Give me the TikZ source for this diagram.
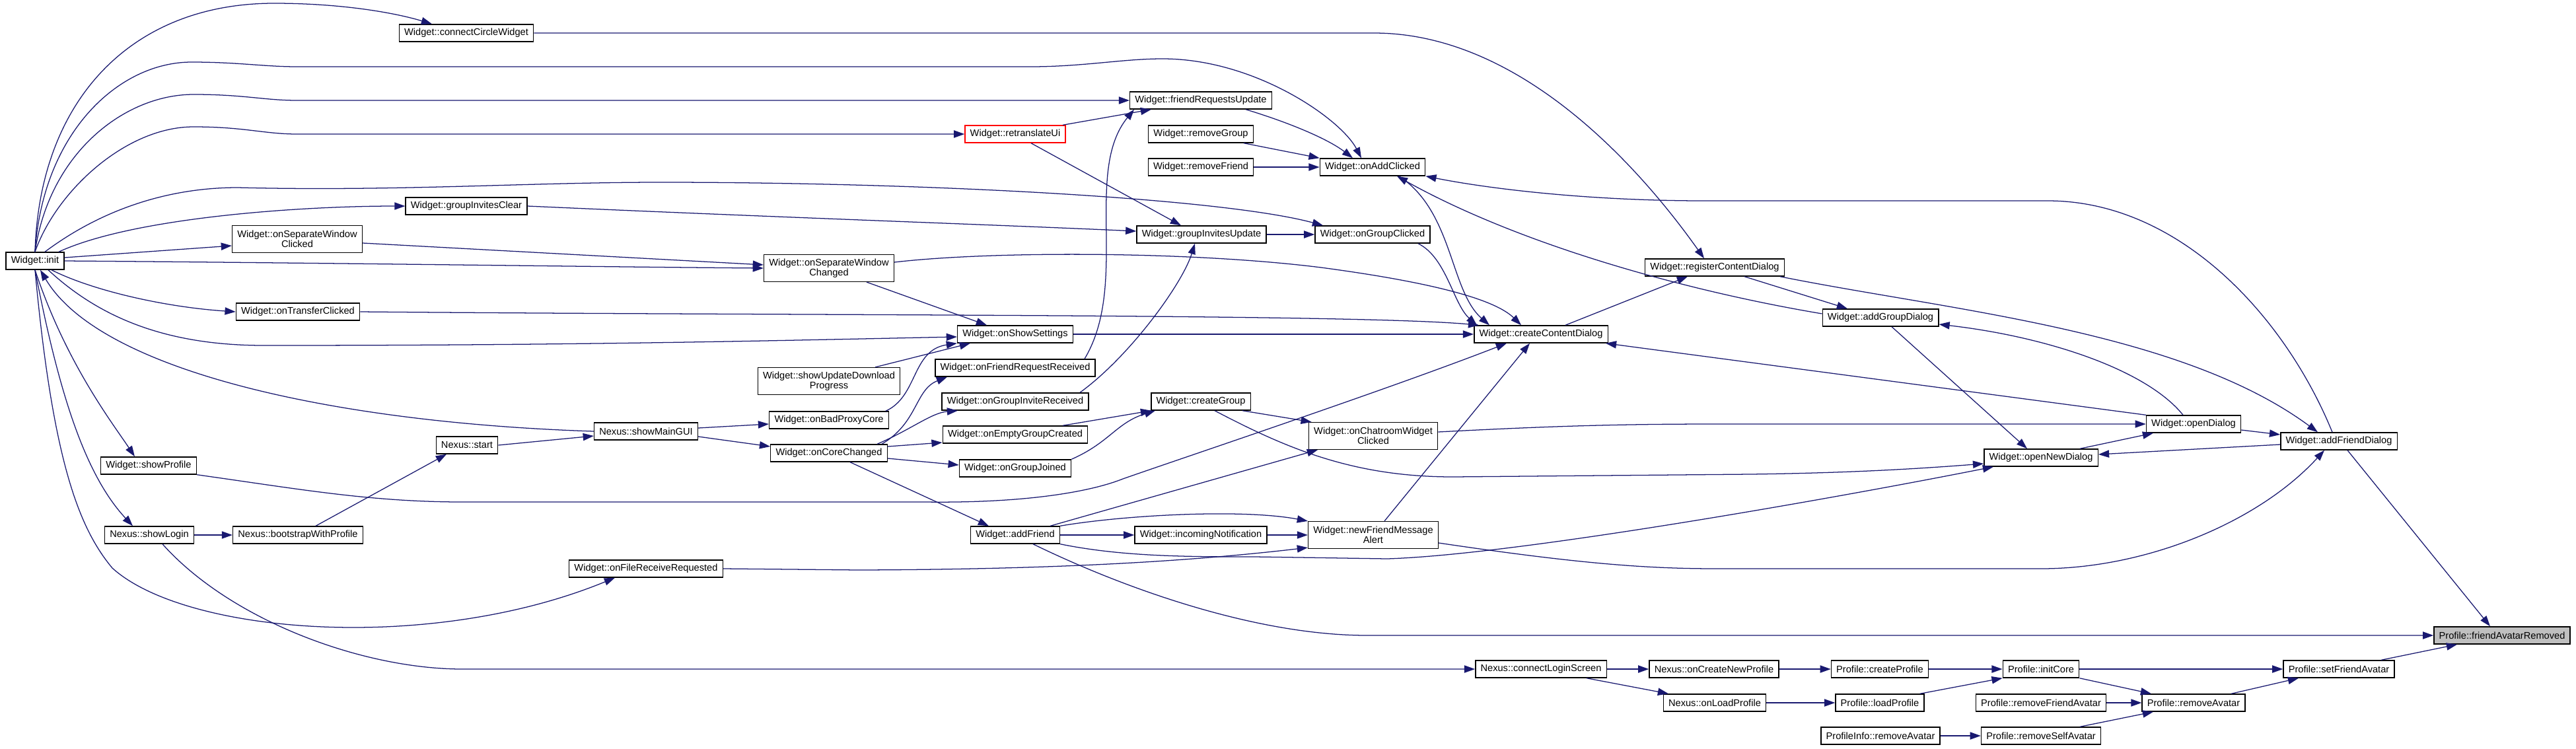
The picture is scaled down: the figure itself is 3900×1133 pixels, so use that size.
\documentclass[tikz,border=0pt]{standalone}
\usepackage{fontspec}
\setmainfont{Liberation Sans}
\usetikzlibrary{arrows.meta,calc}
\definecolor{edgeblue}{HTML}{191970}
\definecolor{rootgray}{HTML}{BFBFBF}

\begin{document}
\begin{tikzpicture}[x=0.025cm, y=-0.025cm, >={Triangle[length=11.5pt,width=8pt]}]
% Stili per le funzioni (box) e per le chiamate (frecce)
\tikzset{fn/.style={draw=black, line width=1pt, fill=white, inner xsep=5.5pt, inner ysep=0pt, minimum height=18.5pt, font=\fontsize{10.4}{11}\selectfont},
         fn2/.style={fn, align=center, minimum height=29pt},
         call/.style={->, draw=edgeblue, line width=0.9pt}}

% Area del disegno
\useasboundingbox (0,0) rectangle (3900,1133);

% --- NODI ---
\node[fn] (init) at (53,395) {Widget::init};
\node[fn] (sp) at (225,705) {Widget::showProfile};
\node[fn] (sl) at (226,810) {Nexus::showLogin};
\node[fn2] (oswc) at (450,362) {Widget::onSeparateWindow\\Clicked};
\node[fn] (otc) at (451,472) {Widget::onTransferClicked};
\node[fn] (bwp) at (451,810) {Nexus::bootstrapWithProfile};
\node[fn] (conn) at (706,50) {Widget::connectCircleWidget};
\node[fn] (gic) at (706,312) {Widget::groupInvitesClear};
\node[fn] (start) at (707,674) {Nexus::start};
\node[fn] (smg) at (978,653) {Nexus::showMainGUI};
\node[fn] (ofrq) at (978,861) {Widget::onFileReceiveRequested};
\node[fn2] (oswch) at (1255,406) {Widget::onSeparateWindow\\Changed};
\node[fn2] (sudp) at (1255,577) {Widget::showUpdateDownload\\Progress};
\node[fn] (obpc) at (1255,636) {Widget::onBadProxyCore};
\node[fn] (occ) at (1255,686) {Widget::onCoreChanged};
\node[fn, draw=red] (retr) at (1537,203) {Widget::retranslateUi};
\node[fn] (oss) at (1537,506) {Widget::onShowSettings};
\node[fn] (ofrr) at (1537,557) {Widget::onFriendRequestReceived};
\node[fn] (ogir) at (1537,608) {Widget::onGroupInviteReceived};
\node[fn] (oegc) at (1537,658) {Widget::onEmptyGroupCreated};
\node[fn] (ogj) at (1537,709) {Widget::onGroupJoined};
\node[fn] (af) at (1537,810) {Widget::addFriend};
\node[fn] (fru) at (1818,152) {Widget::friendRequestsUpdate};
\node[fn] (rmg) at (1818,203) {Widget::removeGroup};
\node[fn] (rmf) at (1818,253) {Widget::removeFriend};
\node[fn] (giu) at (1819,355) {Widget::groupInvitesUpdate};
\node[fn] (cg) at (1818,608) {Widget::createGroup};
\node[fn] (inn) at (1818,810) {Widget::incomingNotification};
\node[fn] (oac) at (2078,253) {Widget::onAddClicked};
\node[fn] (ogc) at (2078,355) {Widget::onGroupClicked};
\node[fn2] (ocwc) at (2079,660) {Widget::onChatroomWidget\\Clicked};
\node[fn2] (nfma) at (2079,810) {Widget::newFriendMessage\\Alert};
\node[fn] (ccd) at (2333,506) {Widget::createContentDialog};
\node[fn] (cls) at (2333,1013) {Nexus::connectLoginScreen};
\node[fn] (rcd) at (2596,405) {Widget::registerContentDialog};
\node[fn] (ocnp) at (2595,1013) {Nexus::onCreateNewProfile};
\node[fn] (olp) at (2596,1064) {Nexus::onLoadProfile};
\node[fn] (agd) at (2847,481) {Widget::addGroupDialog};
\node[fn] (cp) at (2846,1013) {Profile::createProfile};
\node[fn] (lp) at (2846,1064) {Profile::loadProfile};
\node[fn] (pira) at (2847,1114) {ProfileInfo::removeAvatar};
\node[fn] (ond) at (3090,693) {Widget::openNewDialog};
\node[fn] (ic) at (3090,1013) {Profile::initCore};
\node[fn] (rfa) at (3090,1064) {Profile::removeFriendAvatar};
\node[fn] (rsa) at (3090,1114) {Profile::removeSelfAvatar};
\node[fn] (od) at (3321,642) {Widget::openDialog};
\node[fn] (ra) at (3321,1064) {Profile::removeAvatar};
\node[fn] (afd) at (3541,668) {Widget::addFriendDialog};
\node[fn] (sfa) at (3541,1013) {Profile::setFriendAvatar};
\node[fn, fill=rootgray] (far) at (3788,962) {Profile::friendAvatarRemoved};

% --- CHIAMATE DA Widget::init ---
\draw[call] (init.north) .. controls (60,150) and (200,5) .. (415,5) .. controls (520,5) and (600,20) .. ($(conn.north)+(-52,0)$);
\draw[call] (init.north) .. controls (65,200) and (180,94) .. (290,94) .. controls (360,94) and (400,101) .. (450,101) -- (1560,101) .. controls (1640,101) and (1700,89) .. (1760,89) .. controls (1900,89) and (2030,180) .. ($(oac.north)+(-17,0)$);
\draw[call] (init.north) .. controls (75,230) and (190,143) .. (293,143) .. controls (370,143) and (400,152) .. (450,152) -- (fru.west);
\draw[call] (init.north) .. controls (85,290) and (190,192) .. (293,192) .. controls (370,192) and (400,203) .. (450,203) -- (retr.west);
\draw[call] ($(init.north)+(15,0)$) .. controls (150,320) and (250,284) .. (360,284) .. controls (600,290) and (800,276) .. (1000,276) .. controls (1400,276) and (1850,300) .. ($(ogc.north)+(-75,0)$);
\draw[call] ($(init.north)+(36,0)$) .. controls (200,330) and (450,312) .. (gic.west);
\draw[call] ($(init.east)+(0,-5)$) -- ($(oswc.west)+(0,10)$);
\draw[call] (init.east) .. controls (500,398) and (900,404) .. (oswch.west);
\draw[call] ($(oswc.east)+(0,6)$) -- ($(oswch.west)+(0,-5)$);
\draw[call] ($(init.south)+(25,0)$) .. controls (140,440) and (250,465) .. (otc.west);
\draw[call] ($(init.south)+(20,0)$) .. controls (150,480) and (250,523) .. (400,523) .. controls (900,523) and (1200,515) .. ($(oss.west)+(0,4)$);
\draw[call] (init.south) .. controls (100,550) and (170,640) .. ($(sp.north)+(-21,0)$);
\draw[call] (init.south) .. controls (90,600) and (130,720) .. ($(sl.north)+(-25,0)$);
\draw[call] (init.south) .. controls (80,700) and (120,800) .. (170,860) .. controls (280,960) and (650,990) .. ($(ofrq.south)+(-47,0)$);

% --- Nexus ---
\draw[call] (smg.west) .. controls (500,640) and (150,560) .. ($(init.south)+(8,0)$);
\draw[call] (sl.east) -- (bwp.west);
\draw[call] ($(sl.south)+(20,0)$) .. controls (350,940) and (550,1013) .. (700,1013) -- (cls.west);
\draw[call] ($(bwp.north)+(27,0)$) -- ($(start.south)+(-31,0)$);
\draw[call] (start.east) -- ($(smg.west)+(0,7)$);
\draw[call] ($(smg.east)+(0,-5)$) -- ($(obpc.west)+(0,6)$);
\draw[call] ($(smg.east)+(0,8)$) -- ($(occ.west)+(0,-10)$);

% --- Impostazioni e finestre separate ---
\draw[call] ($(oswch.south)+(57,0)$) -- ($(oss.north)+(-43,0)$);
\draw[call] ($(oswch.east)+(0,-9)$) .. controls (1500,380) and (1800,380) .. (2000,405) .. controls (2150,425) and (2260,450) .. ($(ccd.north)+(-30,0)$);
\draw[call] ($(sudp.north)+(70,0)$) -- ($(oss.south)+(-68,0)$);
\draw[call] ($(obpc.north)+(86,0)$) .. controls (1390,600) and (1380,530) .. (oss.south west);
\draw[call] (oss.east) -- (ccd.west);
\draw[call] (otc.east) .. controls (1200,478) and (2050,475) .. ($(ccd.north west)+(8,0)$);

% --- Widget::onCoreChanged ---
\draw[call] ($(occ.north)+(80,0)$) .. controls (1390,640) and (1385,590) .. ($(ofrr.south)+(-103,0)$);
\draw[call] ($(occ.north)+(73,0)$) .. controls (1380,650) and (1410,625) .. ($(ogir.south)+(-87,0)$);
\draw[call] ($(occ.east)+(0,-10)$) -- ($(oegc.west)+(0,12)$);
\draw[call] ($(occ.east)+(0,8)$) -- ($(ogj.west)+(0,-5)$);
\draw[call] ($(occ.south)+(32,0)$) -- ($(af.north)+(-40,0)$);

% --- Richieste e inviti ---
\draw[call] ($(ofrr.north)+(105,0)$) .. controls (1710,430) and (1640,260) .. ($(fru.south)+(-101,0)$);
\draw[call] ($(retr.north)+(72,0)$) -- ($(fru.south)+(-75,0)$);
\draw[call] ($(retr.south)+(24,0)$) -- ($(giu.north)+(-31,0)$);
\draw[call] ($(ogir.north)+(98,0)$) .. controls (1710,540) and (1790,430) .. ($(giu.south)+(-10,0)$);
\draw[call] (gic.east) .. controls (1200,330) and (1500,340) .. ($(giu.west)+(0,-5)$);
\draw[call] ($(oegc.north)+(72,0)$) -- ($(cg.south)+(-75,0)$);
\draw[call] (ogj.north east) .. controls (1680,670) and (1690,640) .. ($(cg.south)+(-69,0)$);

% --- Widget::addFriend ---
\draw[call] (af.east) -- (inn.west);
\draw[call] (inn.east) -- (nfma.west);
\draw[call] (af.north east) .. controls (1700,780) and (1880,770) .. (nfma.north west);
\draw[call] ($(af.north)+(53,0)$) -- ($(ocwc.south)+(-84,0)$);
\draw[call] (af.south east) .. controls (1700,843) and (1800,843) .. (1900,843) -- (2100,846) .. controls (2300,840) and (2800,750) .. ($(ond.south)+(-72,0)$);
\draw[call] ($(af.south)+(27,0)$) .. controls (1700,890) and (1900,962) .. (2070,962) -- (far.west);
\draw[call] (ofrq.east) -- (1300,863) .. controls (1600,862) and (1800,850) .. ($(nfma.south west)+(0,-2)$);

% --- Colonna di friendRequestsUpdate ---
\draw[call] ($(fru.south)+(68,0)$) .. controls (1950,185) and (2010,210) .. ($(oac.north)+(-30,0)$);
\draw[call] ($(rmg.south)+(65,0)$) -- (oac.north west);
\draw[call] (rmf.east) -- (oac.west);
\draw[call] (giu.east) -- (ogc.west);
\draw[call] ($(cg.south east)+(-13,0)$) -- ($(ocwc.north west)+(5,0)$);
\draw[call] ($(cg.south)+(21,0)$) .. controls (1950,680) and (2050,722) .. (2200,722) -- (2650,718) .. controls (2800,716) and (2900,710) .. ($(ond.west)+(0,9)$);

% --- Dialoghi ---
\draw[call] ($(ogc.south)+(69,0)$) .. controls (2190,390) and (2200,460) .. ($(ccd.north)+(-97,0)$);
\draw[call] ($(oac.south)+(40,0)$) .. controls (2200,320) and (2195,440) .. ($(ccd.north)+(-78,0)$);
\draw[call] ($(ocwc.east)+(0,-6)$) .. controls (2350,645) and (2450,642) .. (2600,642) -- (od.west);
\draw[call] ($(nfma.north)+(17,0)$) -- ($(ccd.south)+(-17,0)$);
\draw[call] ($(nfma.east)+(0,12)$) .. controls (2400,855) and (2500,861) .. (2600,861) -- (3090,861) .. controls (3250,861) and (3420,790) .. ($(afd.south)+(-22,0)$);
\draw[call] (sp.south east) .. controls (450,740) and (560,760) .. (700,760) -- (1400,760) .. controls (1550,762) and (1650,745) .. (1700,725) .. controls (1800,690) and (2100,590) .. ($(ccd.south)+(-52,0)$);
\draw[call] ($(ccd.north)+(37,0)$) -- ($(rcd.south)+(-41,0)$);
\draw[call] (od.north west) -- ($(ccd.south east)+(-4,0)$);
\draw[call] (conn.east) -- (2080,50) .. controls (2300,50) and (2480,250) .. ($(rcd.north)+(-16,0)$);
\draw[call] ($(rcd.south)+(45,0)$) -- ($(agd.north)+(-50,0)$);
\draw[call] ($(rcd.south east)+(-7,0)$) .. controls (2950,470) and (3300,500) .. ($(afd.north)+(-32,0)$);
\draw[call] ($(agd.south)+(17,0)$) -- ($(ond.north)+(-21,0)$);
\draw[call] ($(agd.west)+(0,-6)$) .. controls (2550,440) and (2300,370) .. ($(oac.south)+(37,0)$);
\draw[call] ($(od.north)+(-16,0)$) .. controls (3250,560) and (3100,510) .. ($(agd.east)+(0,10)$);
\draw[call] ($(od.east)+(0,9)$) -- ($(afd.west)+(0,-10)$);
\draw[call] ($(ond.north)+(59,0)$) -- ($(od.south)+(-61,0)$);
\draw[call] ($(afd.west)+(0,5)$) -- ($(ond.east)+(0,-5)$);
\draw[call] ($(afd.north)+(-10,0)$) .. controls (3460,480) and (3300,304) .. (3100,304) -- (2580,304) .. controls (2400,304) and (2250,285) .. (oac.south east);
\draw[call] ($(afd.south)+(13,0)$) -- ($(far.north)+(-18,0)$);

% --- Profile ---
\draw[call] (cls.east) -- (ocnp.west);
\draw[call] ($(cls.south)+(69,0)$) -- ($(olp.north)+(-70,0)$);
\draw[call] (ocnp.east) -- (cp.west);
\draw[call] (olp.east) -- (lp.west);
\draw[call] (cp.east) -- (ic.west);
\draw[call] ($(lp.north east)+(-7,0)$) -- (ic.south west);
\draw[call] (ic.east) -- (sfa.west);
\draw[call] (ic.south east) -- ($(ra.north)+(-64,0)$);
\draw[call] (rfa.east) -- (ra.west);
\draw[call] (pira.east) -- (rsa.west);
\draw[call] ($(rsa.north)+(59,0)$) -- ($(ra.south)+(-61,0)$);
\draw[call] ($(ra.north)+(57,0)$) -- ($(sfa.south)+(-61,0)$);
\draw[call] ($(sfa.north)+(64,0)$) -- ($(far.south)+(-68,0)$);

\end{tikzpicture}
\end{document}
